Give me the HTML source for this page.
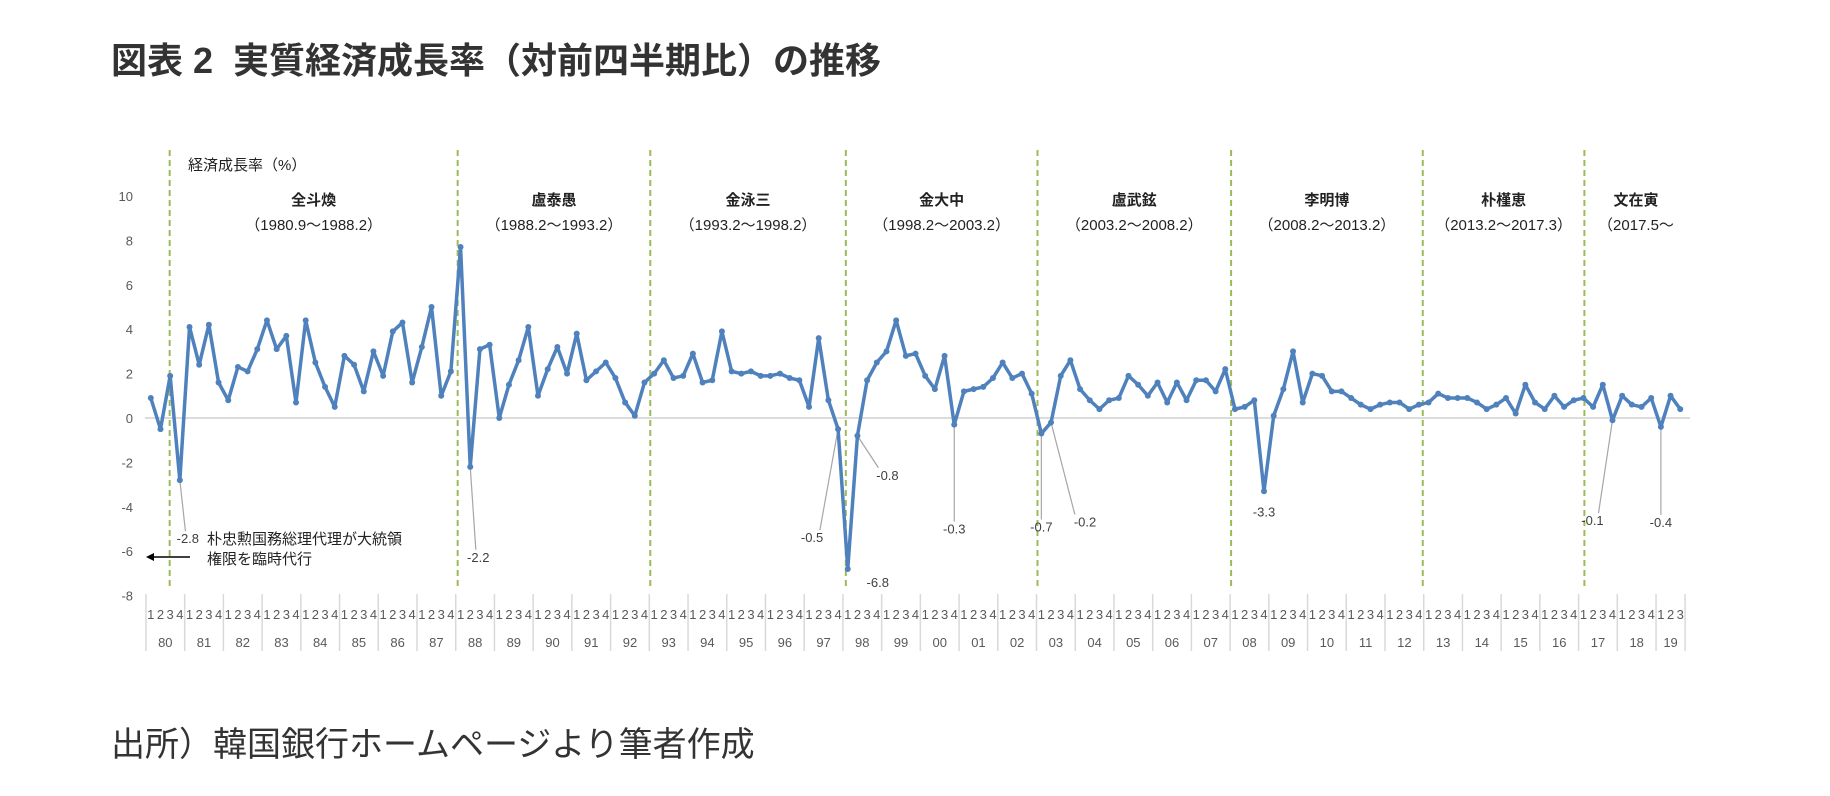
<!DOCTYPE html>
<html><head><meta charset="utf-8">
<style>
html,body{margin:0;padding:0;background:#fff;}
body{width:1830px;height:796px;position:relative;overflow:hidden;font-family:"Liberation Sans","Noto Sans CJK JP",sans-serif;}
#title{position:absolute;left:111px;top:32px;font-size:36px;font-weight:bold;color:#333;white-space:nowrap;}
#source{position:absolute;left:111px;top:717px;font-size:34px;color:#333;white-space:nowrap;}
svg{position:absolute;left:0;top:0;}
</style></head>
<body>
<div id="title">図表 2&nbsp; 実質経済成長率（対前四半期比）の推移</div>
<div id="source">出所）韓国銀行ホームページより筆者作成</div>
<svg id="chart" width="1830" height="796"></svg>
<script>
const years=["80","81","82","83","84","85","86","87","88","89","90","91","92","93","94","95","96","97","98","99","00","01","02","03","04","05","06","07","08","09","10","11","12","13","14","15","16","17","18","19"];
const growth=[0.9,-0.5,1.9,-2.8, 4.1,2.4,4.2,1.6, 0.8,2.3,2.1,3.1, 4.4,3.1,3.7,0.7, 4.4,2.5,1.4,0.5, 2.8,2.4,1.2,3.0, 1.9,3.9,4.3,1.6, 3.2,5.0,1.0,2.1,
7.7,-2.2,3.1,3.3, 0.0,1.5,2.6,4.1, 1.0,2.2,3.2,2.0, 3.8,1.7,2.1,2.5, 1.8,0.7,0.1,1.6, 2.0,2.6,1.8,1.9, 2.9,1.6,1.7,3.9, 2.1,2.0,2.1,1.9,
1.9,2.0,1.8,1.7, 0.5,3.6,0.8,-0.5, -6.8,-0.8,1.7,2.5, 3.0,4.4,2.8,2.9, 1.9,1.3,2.8,-0.3, 1.2,1.3,1.4,1.8, 2.5,1.8,2.0,1.1,
-0.7,-0.2,1.9,2.6, 1.3,0.8,0.4,0.8, 0.9,1.9,1.5,1.0, 1.6,0.7,1.6,0.8, 1.7,1.7,1.2,2.2, 0.4,0.5,0.8,-3.3, 0.1,1.3,3.0,0.7,
2.0,1.9,1.2,1.2, 0.9,0.6,0.4,0.6, 0.7,0.7,0.4,0.6, 0.7,1.1,0.9,0.9, 0.9,0.7,0.4,0.6, 0.9,0.2,1.5,0.7, 0.4,1.0,0.5,0.8,
0.9,0.5,1.5,-0.1, 1.0,0.6,0.5,0.9, -0.4,1.0,0.4];
const yTicks=[10,8,6,4,2,0,-2,-4,-6,-8];
const presidents=["全斗煥","盧泰愚","金泳三","金大中","盧武鉉","李明博","朴槿恵","文在寅"];
const terms=["（1980.9～1988.2）","（1988.2～1993.2）","（1993.2～1998.2）","（1998.2～2003.2）","（2003.2～2008.2）","（2008.2～2013.2）","（2013.2～2017.3）","（2017.5～"];
const termStartIdx=[1.95,31.7,51.6,71.8,91.6,111.6,131.4,148.1];
const termEndIdx=[31.7,51.6,71.8,91.6,111.6,131.4,148.1,160];
const callouts=[{i:3,t:"-2.8"},{i:33,t:"-2.2"},{i:71,t:"-0.5"},{i:72,t:"-6.8"},{i:73,t:"-0.8"},{i:83,t:"-0.3"},{i:92,t:"-0.7"},{i:93,t:"-0.2"},{i:115,t:"-3.3"},{i:151,t:"-0.1"},{i:156,t:"-0.4"}];
const calloutOffsets=[[8,63],[8,95],[-26,113],[30,18],[30,44],[0,109],[0,98],[34,104],[0,25],[-20,105],[0,100]];

const svg=document.getElementById('chart');
const NS='http://www.w3.org/2000/svg';
const X0=150.8, DX=9.68;
const xs=i=>X0+DX*i;
const ys=v=>418-22.2*v;
function mk(tag,attrs,parent){const e=document.createElementNS(NS,tag);for(const k in attrs)e.setAttribute(k,attrs[k]);(parent||svg).appendChild(e);return e;}
function txt(x,y,s,size,anchor,fill,weight){const t=mk('text',{x:x,y:y,'font-size':size,'text-anchor':anchor||'start',fill:fill||'#595959','font-family':'"Liberation Sans","Noto Sans CJK JP",sans-serif','font-weight':weight||'normal'});t.textContent=s;return t;}

yTicks.forEach(v=>{const t=txt(133,ys(v)+5,String(v),13,'end');

});
const z=mk('line',{x1:145,x2:1690,y1:ys(0),y2:ys(0),stroke:'#d0d0d0','stroke-width':1.5});


const yt=txt(188,170,"経済成長率（%）",15,'start','#222');



termStartIdx.forEach((s,k)=>{
  const l=mk('line',{x1:xs(s),x2:xs(s),y1:150,y2:590,stroke:'#9bbb59','stroke-width':2,'stroke-dasharray':'6,4'});
  
  
  const cx=k===7?1636:(xs(s)+xs(termEndIdx[k]))/2;
  const n=txt(cx,205,presidents[k],15,'middle','#222','bold');
  
  
  const d=txt(cx,230,terms[k],15,'middle','#222');
  
  
});

callouts.forEach((c,k)=>{
  const px=xs(c.i), py=ys(growth[c.i]);
  const o=calloutOffsets[k];
  const lx=px+o[0], ly=py+o[1];
  if(c.t!=="-6.8" && c.t!=="-3.3"){
    const p=mk('polyline',{points:`${px},${py} ${px+(o[0]?o[0]*0.7:0)},${ly-12}`,fill:'none',stroke:'#a6a6a6','stroke-width':1.2});
    
    
  }
  const t=txt(lx,ly,c.t,13,'middle','#404040');
  
  
});

const pts=growth.map((v,i)=>`${xs(i)},${ys(v)}`).join(' ');
const line=mk('polyline',{points:pts,fill:'none',stroke:'#4f81bd','stroke-width':3.5,'stroke-linejoin':'round'});


growth.forEach((v,i)=>{const c=mk('circle',{cx:xs(i),cy:ys(v),r:3,fill:'#4f81bd'});

});

const a1=txt(207,544,"朴忠勲国務総理代理が大統領",15,'start','#222');


const a2=txt(207,564,"権限を臨時代行",15,'start','#222');


const ar=mk('line',{x1:190,x2:152,y1:557,y2:557,stroke:'#000','stroke-width':1.5});


const ah=mk('polygon',{points:'146,557 154,553 154,561',fill:'#000'});



const nQ=growth.length;
for(let i=0;i<nQ;i++){const t=txt(xs(i),619,String(i%4+1),13,'middle','#595959');

}
years.forEach((y,k)=>{
  const x0=xs(4*k)-DX/2;
  const x1=Math.min(xs(4*k+4)-DX/2, xs(nQ)-DX/2);
  const l=mk('line',{x1:x0,x2:x0,y1:594,y2:651,stroke:'#d9d9d9','stroke-width':1.5});
  
  
  const t=txt((x0+x1)/2,647,y,13,'middle','#595959');
  
  
});
const le=mk('line',{x1:xs(nQ)-DX/2,x2:xs(nQ)-DX/2,y1:594,y2:651,stroke:'#d9d9d9','stroke-width':1.5});


</script>
</body></html>
